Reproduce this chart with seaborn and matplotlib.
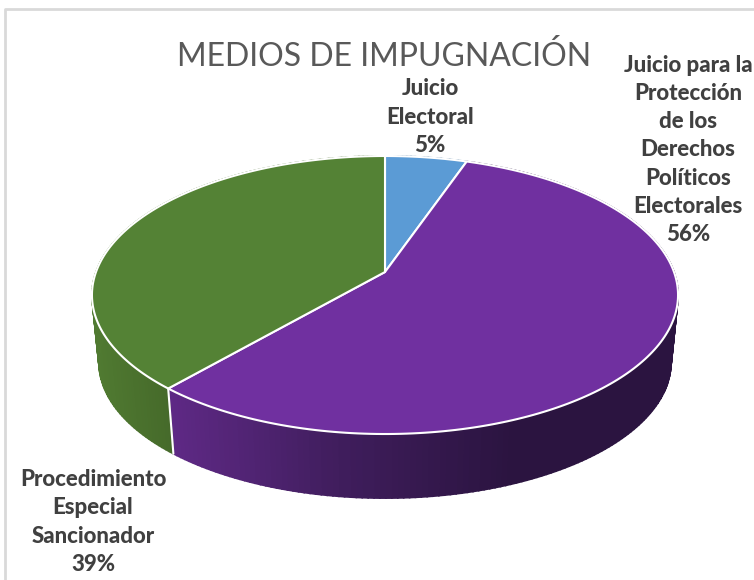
import matplotlib.pyplot as plt
import numpy as np
import seaborn as sns

#%% Data
names = ['Juicio\nElectoral',
         'Juicio para la\nProtección\nde los\nDerechos\nPolíticos\nElectorales',
         'Procedimiento\nEspecial\nSancionador']
values = [5.3, 56.1, 38.6]
top_colors = ['#5B9BD5', '#7030A0', '#548235']
wall_colors = [['#3f6f9a', '#3f6f9a'],
               ['#5e2985', '#3f1d5c', '#2b1440', '#2b1440'],
               ['#507a31', '#45692a']]
wall_ranges = [(385, 470), (170, 680), (92, 172)]
label_xy = [(430, 117), (688, 150), (93, 522)]

#%% Projection of the tilted disc, in pixels of the figure
center_x, center_y = 385, 272
k, a, c = 289, 135.2, 0.1655
depth_scale, depth_y = 0.976, 340


def project_top(theta):
    ''' Angle clockwise from 12 o clock to a point on the rim of the top face'''
    den = 1 + c * np.cos(theta)
    return center_x + k * np.sin(theta) / den, center_y - a * np.cos(theta) / den


def project_bottom(theta):
    ''' Same point on the rim of the bottom face'''
    den = 1 + c * np.cos(theta)
    return (center_x + depth_scale * k * np.sin(theta) / den,
            depth_y - depth_scale * a * np.cos(theta) / den)


#%% Figure
sns.set_theme(style="white")
plt.rcParams['font.family'] = 'Lato'

fig = plt.figure(figsize=(7.54, 5.8), dpi=100)
ax = fig.add_axes([0, 0, 1, 1])
ax.set_xlim(0, 754)
ax.set_ylim(580, 0)
ax.axis('off')

# chart frame, only the top and left are in the picture
ax.plot([5, 5, 754], [580, 9, 9], color='#d9d9d9', linewidth=2)

edges = np.radians(np.concatenate([[0], np.cumsum(values)]) * 3.6)

# walls first, the top face hides the back half of them
for i in range(len(values)):
    n_strips = int(np.degrees(edges[i + 1] - edges[i]))
    angles = np.linspace(edges[i], edges[i + 1], n_strips + 1)
    palette = sns.blend_palette(wall_colors[i], 128)
    x_low, x_high = wall_ranges[i]
    for t0, t1 in zip(angles[:-1], angles[1:]):
        x0, y0 = project_top(t0)
        x1, y1 = project_top(t1)
        x2, y2 = project_bottom(t1)
        x3, y3 = project_bottom(t0)
        pos = (0.5 * (x0 + x1) - x_low) / (x_high - x_low)
        color = palette[int(np.clip(pos, 0, 1) * 127)]
        ax.fill([x0, x1, x2, x3], [y0, y1, y2, y3], color=color, linewidth=1.2)

# white line between the walls of the purple and green slices
x0, y0 = project_top(edges[2])
x1, y1 = project_bottom(edges[2])
ax.plot([x0, x1], [y0, y1], color='white', linewidth=1.5)

# top face
for i in range(len(values)):
    angles = np.linspace(edges[i], edges[i + 1], 200)
    x, y = project_top(angles)
    ax.fill(np.r_[center_x, x], np.r_[center_y, y], facecolor=top_colors[i],
            edgecolor='white', linewidth=1.5, joinstyle='round')

# labels
for name, value, (x, y) in zip(names, values, label_xy):
    ax.text(x, y, f"{name}\n{value:.0f}%", ha='center', va='center', fontsize=16,
            fontweight='black', color='#404040', linespacing=1.43)

ax.text(384, 56, 'MEDIOS DE IMPUGNACIÓN', ha='center', va='center', fontsize=23,
        color='#595959')

fig.savefig('out.png', dpi=100)
